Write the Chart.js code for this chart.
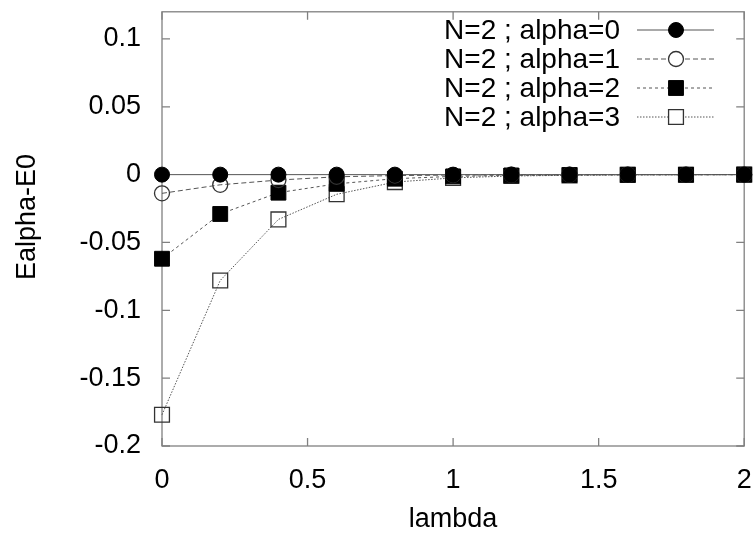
<!DOCTYPE html>
<html>
<head>
<meta charset="utf-8">
<script src="https://cdn.jsdelivr.net/npm/chart.js@4/dist/chart.umd.min.js"></script>
<style>
  html, body { margin: 0; padding: 0; background: #fff; }
  #wrap { width: 756px; height: 533px; }
</style>
</head>
<body>
<div id="wrap"><canvas id="plot" width="756" height="533"></canvas></div>
<script>
// lambda values and Ealpha-E0 for each alpha (N=2)
const lambdas = [0, 0.2, 0.4, 0.6, 0.8, 1.0, 1.2, 1.4, 1.6, 1.8, 2.0];
const alpha0 = [0, 0, 0, 0, 0, 0, 0, 0, 0, 0, 0];
const alpha1 = [-0.0138, -0.0075, -0.004, -0.0016, -0.0007, -0.0003, -0.0001, -0.0001, 0, 0, 0];
const alpha2 = [-0.062, -0.029, -0.0133, -0.0068, -0.003, -0.0013, -0.0006, -0.0003, -0.0001, -0.0001, 0];
const alpha3 = [-0.177, -0.078, -0.033, -0.0145, -0.0055, -0.0024, -0.001, -0.0005, -0.0002, -0.0001, 0];
const seriesNames = ['N=2 ; alpha=0', 'N=2 ; alpha=1', 'N=2 ; alpha=2', 'N=2 ; alpha=3'];
const xTicks = [0, 0.5, 1, 1.5, 2];
const yTicks = [-0.2, -0.15, -0.1, -0.05, 0, 0.05, 0.1];
const yTitle = 'Ealpha-E0';

const FONT = 'Liberation Sans, Arial, sans-serif';
const lineGray = '#555';
const axisGray = '#808080';

function pts(ys) {
    return lambdas.map((x, i) => ({x: x, y: ys[i]}));
}

function makeSet(label, ys, style, radius, fill, dash, bw) {
    return {
        label: label,
        data: pts(ys),
        showLine: true,
        borderColor: lineGray,
        borderWidth: 1,
        borderDash: dash,
        pointStyle: style,
        pointRadius: radius,
        pointHoverRadius: radius,
        pointBackgroundColor: fill,
        pointBorderColor: fill === 'black' ? 'black' : '#333',
        pointBorderWidth: bw,
        clip: false
    };
}

const datasets = [
    makeSet(seriesNames[0], alpha0, 'circle', 7.5, 'black', [], 1),
    makeSet(seriesNames[1], alpha1, 'circle', 7.5, 'rgba(0,0,0,0)', [5, 3], 1.3),
    makeSet(seriesNames[2], alpha2, 'rect', 10.5, 'black', [3, 3], 1),
    makeSet(seriesNames[3], alpha3, 'rect', 10.5, 'rgba(0,0,0,0)', [1.5, 1.5], 1.3)
];

// no automatic label overflow padding, the frame is placed by hand
function noPad(s) {
    s.paddingTop = 0; s.paddingBottom = 0;
    s.paddingLeft = 0; s.paddingRight = 0;
}

// white background, gnuplot-like frame with inward ticks, legend at top right
const framePlugin = {
    id: 'frame',
    beforeDraw(chart) {
        const c = chart.ctx;
        c.save();
        c.fillStyle = '#fff';
        c.fillRect(0, 0, chart.width, chart.height);
        c.restore();
    },
    beforeDatasetsDraw(chart) {
        const c = chart.ctx, a = chart.chartArea;
        const xs = chart.scales.x, ys = chart.scales.y;
        c.save();
        c.strokeStyle = axisGray;
        c.lineWidth = 1.3;
        c.strokeRect(a.left, a.top, a.right - a.left, a.bottom - a.top);
        c.beginPath();
        xTicks.forEach(v => {
            const px = xs.getPixelForValue(v);
            c.moveTo(px, a.bottom); c.lineTo(px, a.bottom - 8);
            c.moveTo(px, a.top); c.lineTo(px, a.top + 8);
        });
        yTicks.forEach(v => {
            const py = ys.getPixelForValue(v);
            c.moveTo(a.left, py); c.lineTo(a.left + 8, py);
            c.moveTo(a.right, py); c.lineTo(a.right - 8, py);
        });
        c.stroke();
        // y axis title, a bit above the middle as in the original
        c.translate(28, 217);
        c.rotate(-Math.PI / 2);
        c.font = '27px ' + FONT;
        c.fillStyle = '#000';
        c.textAlign = 'center';
        c.textBaseline = 'middle';
        c.fillText(yTitle, 0, 0);
        c.restore();
    },
    afterDraw(chart) {
        const c = chart.ctx;
        const textRight = 620, lineL = 637, lineR = 714, mark = 676;
        const rowY = [30, 59, 88, 117];
        c.save();
        c.font = '28px ' + FONT;
        c.textAlign = 'right';
        c.textBaseline = 'middle';
        chart.data.datasets.forEach((ds, i) => {
            const y = rowY[i];
            c.fillStyle = '#000';
            c.fillText(ds.label, textRight, y + 1);
            c.strokeStyle = lineGray;
            c.lineWidth = 1;
            c.setLineDash(ds.borderDash);
            c.beginPath();
            c.moveTo(lineL, y); c.lineTo(lineR, y);
            c.stroke();
            c.setLineDash([]);
            c.fillStyle = ds.pointBackgroundColor === 'black' ? 'black' : '#fff';
            c.strokeStyle = ds.pointBorderColor;
            c.lineWidth = ds.pointBorderWidth;
            Chart.helpers.drawPoint(c, {
                pointStyle: ds.pointStyle, rotation: 0,
                radius: ds.pointRadius, borderWidth: ds.pointBorderWidth
            }, mark, y);
        });
        c.restore();
    }
};

new Chart(document.getElementById('plot').getContext('2d'), {
    type: 'scatter',
    data: {datasets: datasets},
    options: {
        responsive: false,
        animation: false,
        layout: {padding: {top: 10, right: 5, left: 0, bottom: 0}},
        plugins: {
            legend: {display: false},
            tooltip: {enabled: false}
        },
        scales: {
            x: {
                type: 'linear', min: 0, max: 2,
                afterFit: s => { s.height = 87; noPad(s); },
                afterBuildTicks: s => { s.ticks = xTicks.map(v => ({value: v})); },
                grid: {drawOnChartArea: false, drawTicks: false},
                border: {display: false},
                ticks: {
                    padding: 18, color: '#000',
                    font: {family: FONT, size: 27},
                    callback: v => String(+v.toFixed(2))
                },
                title: {
                    display: true, text: 'lambda', color: '#000',
                    font: {family: FONT, size: 27, lineHeight: 1.0},
                    padding: 0
                }
            },
            y: {
                type: 'linear', min: -0.2, max: 0.12,
                afterFit: s => { s.width = 162; noPad(s); },
                afterBuildTicks: s => { s.ticks = yTicks.map(v => ({value: v})); },
                grid: {drawOnChartArea: false, drawTicks: false},
                border: {display: false},
                ticks: {
                    padding: 21, color: '#000',
                    font: {family: FONT, size: 27},
                    callback: v => String(+v.toFixed(2))
                },
                title: {display: false}
            }
        }
    },
    plugins: [framePlugin]
});
</script>
</body>
</html>
